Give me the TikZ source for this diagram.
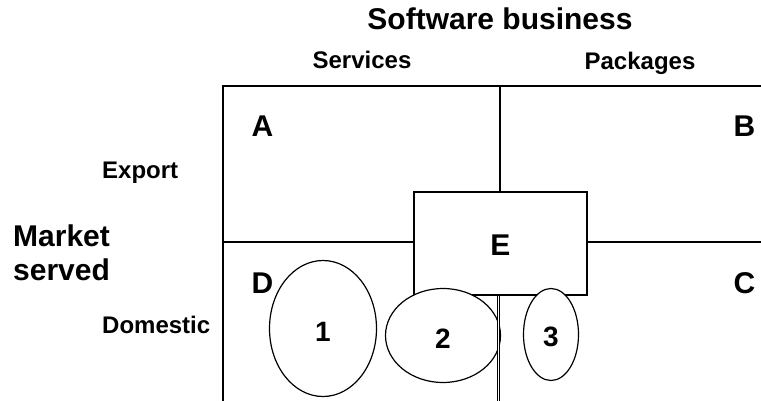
\documentclass[tikz,border=0pt]{standalone}
\usepackage{fontspec}
\setmainfont{Liberation Sans}
\usetikzlibrary{shapes.geometric}

\begin{document}
\begin{tikzpicture}[x=1pt,y=-1pt,
	big/.style={font=\fontsize{30}{34}\selectfont\bfseries, inner sep=0pt},
	small/.style={font=\fontsize{24}{28}\selectfont\bfseries, inner sep=0pt},
	grid/.style={line width=1.3pt},
	blob/.style={draw, ellipse, fill=white, line width=1.2pt, inner sep=0pt, text height=25pt, font=\fontsize{28}{32}\selectfont\bfseries}]
	
	\useasboundingbox (0,0) rectangle (761,400);
	
	%Grid lines
	\def\xl{223}
	\def\yt{86}
	\def\ym{242}
	\def\xm{500}
	
	%Marking coordinates
	\coordinate (TL) at (\xl,\yt);
	\coordinate (TR) at (770,\yt);
	\coordinate (BL) at (\xl,405);
	\coordinate (ML) at (\xl,\ym);
	\coordinate (MR) at (770,\ym);
	\coordinate (TM) at (\xm,\yt);
	\coordinate (BM) at (498.7,405);
	
	%Headings
	\node[big, anchor=base] (title) at (500,29) {Software business};
	\node[small, anchor=base] (services) at (362,68) {Services};
	\node[small, anchor=base] (packages) at (640,69) {Packages};
	\node[small, anchor=base west] (export) at (102,178) {Export};
	\node[small, anchor=base west] (domestic) at (102,333) {Domestic};
	\node[big, anchor=north west, align=left] (market) at (13,225) {Market\\served};
	
	%Box E in the middle
	\node[draw, grid, minimum width=173pt, minimum height=103pt, big, text height=24pt] (E) at (500.5,243.5) {E};
	
	%Drawing the grid
	\draw[grid] (TR) -- (TL) -- (BL);
	\draw[grid] (ML) -- (ML -| E.west) (MR -| E.east) -- (MR);
	\draw[grid] (TM) -- (TM |- E.north);
	
	%Quadrant letters
	\node[big, anchor=base] (A) at (262.5,136) {A};
	\node[big, anchor=base] (B) at (744.5,136) {B};
	\node[big, anchor=base] (C) at (744.5,293) {C};
	\node[big, anchor=base] (D) at (262.5,293) {D};
	
	%Firms
	\node[blob, minimum width=107pt, minimum height=136pt] (one) at (323,328.5) {1};
	\node[blob, minimum width=115pt, minimum height=94pt] (two) at (443,335.5) {2};
	\node[blob, minimum width=55pt, minimum height=92pt] (three) at (551,334.5) {3};
	
	%Double line under E
	\draw[double, double distance=1pt, line width=1.1pt] (E.south -| BM) -- (BM);
\end{tikzpicture}
\end{document}
